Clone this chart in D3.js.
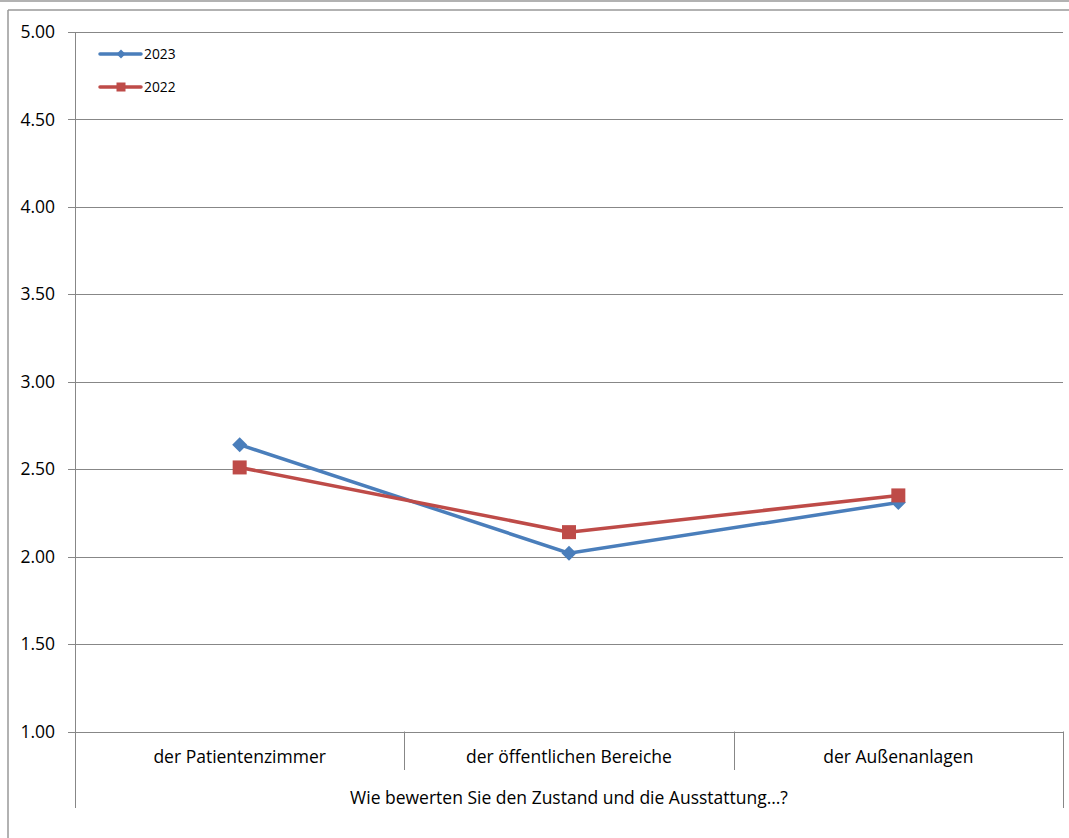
<!DOCTYPE html>
<html><head><meta charset="utf-8">
<script src="https://cdn.jsdelivr.net/npm/d3@7"></script>
<style>body{margin:0;background:#fff}svg{display:block}text{font-family:"Open Sans",sans-serif;fill:#000}</style>
</head><body><svg id="c" width="1069" height="838"></svg>
<script>
const categories = ["der Patientenzimmer","der öffentlichen Bereiche","der Außenanlagen"];
const values2023 = [2.64, 2.02, 2.31];
const values2022 = [2.51, 2.14, 2.35];
const yTicks = [1.00,1.50,2.00,2.50,3.00,3.50,4.00,4.50,5.00];
const axisTitle = "Wie bewerten Sie den Zustand und die Ausstattung…?";
const seriesNames = ["2023","2022"];

const svg = d3.select("#c");
const L=75, R=1063, T=32, B=731.5;
const x = d3.scaleBand().domain(categories).range([L,R]);
const y = d3.scaleLinear().domain([1,5]).range([B,T]);
const grid="#878787";
const FS=17.5;

// outer frame
svg.append("line").attr("x1",0).attr("x2",1069).attr("y1",1).attr("y2",1).attr("stroke","#999").attr("stroke-width",1.5);
svg.append("line").attr("x1",8).attr("x2",1069).attr("y1",10).attr("y2",10).attr("stroke","#999").attr("stroke-width",1.5);
svg.append("line").attr("x1",8).attr("x2",8).attr("y1",10).attr("y2",838).attr("stroke","#999").attr("stroke-width",1.5);

// gridlines + y ticks
const ya = svg.append("g");
yTicks.forEach(t=>{
  ya.append("line").attr("x1",68).attr("x2",R).attr("y1",Math.round(y(t))+0.5).attr("y2",Math.round(y(t))+0.5).attr("stroke",grid).attr("stroke-width",1);
  ya.append("text").attr("x",55).attr("y",y(t)).attr("dy","0.35em").attr("text-anchor","end").attr("font-size",FS).text(t.toFixed(2));
});
// axis lines
svg.append("line").attr("x1",L+0.5).attr("x2",L+0.5).attr("y1",T).attr("y2",808).attr("stroke",grid);
svg.append("line").attr("x1",R+0.5).attr("x2",R+0.5).attr("y1",B).attr("y2",808).attr("stroke",grid);
// category dividers
categories.forEach((c,i)=>{
  if(i>0){const xx=Math.round(x(c))+0.5;
    svg.append("line").attr("x1",xx).attr("x2",xx).attr("y1",B).attr("y2",770).attr("stroke",grid);}
  svg.append("text").attr("x",x(c)+x.bandwidth()/2).attr("y",757).attr("dy","0.35em").attr("text-anchor","middle").attr("font-size",FS).text(c);
});
svg.append("text").attr("x",(L+R)/2).attr("y",798).attr("dy","0.35em").attr("text-anchor","middle").attr("font-size",FS).text(axisTitle);

const cx = c=>x(c)+x.bandwidth()/2;
const line = d3.line().x((d,i)=>cx(categories[i])).y(d=>y(d));
const blue="#4A7EBB", red="#BE4B48";
const diamond = (g,px,py,s)=>g.append("path").attr("d",`M${px},${py-s}L${px+s},${py}L${px},${py+s}L${px-s},${py}Z`);

svg.append("path").datum(values2023).attr("d",line).attr("fill","none").attr("stroke",blue).attr("stroke-width",3.5);
values2023.forEach((v,i)=>diamond(svg,cx(categories[i]),y(v),7.5).attr("fill",blue));
svg.append("path").datum(values2022).attr("d",line).attr("fill","none").attr("stroke",red).attr("stroke-width",3.5);
values2022.forEach((v,i)=>svg.append("rect").attr("x",cx(categories[i])-7).attr("y",y(v)-7).attr("width",14).attr("height",14).attr("fill",red));

// legend
const lg = svg.append("g");
[[blue,54,"d"],[red,87,"s"]].forEach(([col,ly,m],i)=>{
  lg.append("line").attr("x1",100).attr("x2",141).attr("y1",ly).attr("y2",ly).attr("stroke",col).attr("stroke-width",3.5).attr("stroke-linecap","round");
  if(m==="d") diamond(lg,121,ly,4.5).attr("fill",col);
  else lg.append("rect").attr("x",116.5).attr("y",ly-4.5).attr("width",9).attr("height",9).attr("fill",col);
  lg.append("text").attr("x",144).attr("y",ly).attr("dy","0.35em").attr("font-size",13.8).text(seriesNames[i]);
});
</script></body></html>
